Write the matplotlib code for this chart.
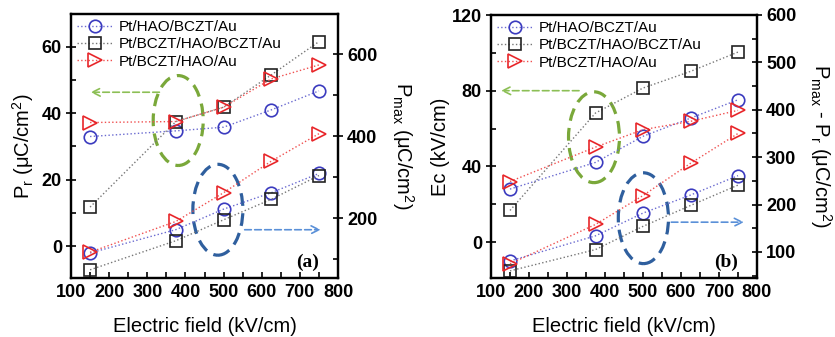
import matplotlib
matplotlib.use("Agg")
import matplotlib.pyplot as plt
from matplotlib.patches import Ellipse
from matplotlib.ticker import MultipleLocator

plt.rcParams['font.family'] = ['Liberation Sans', 'DejaVu Sans']
plt.rcParams['mathtext.fontset'] = 'custom'
plt.rcParams['mathtext.rm'] = 'Liberation Sans'
plt.rcParams['mathtext.it'] = 'Liberation Sans'

# ---------------- data ----------------
field = [150, 375, 500, 625, 750]
labels = ["Pt/HAO/BCZT/Au", "Pt/BCZT/HAO/BCZT/Au", "Pt/BCZT/HAO/Au"]

# panel (a)
pr_hao_bczt = [33.0, 34.7, 35.8, 41.0, 46.7]
pr_bczt_hao_bczt = [11.8, 37.5, 41.8, 51.5, 61.5]
pr_bczt_hao = [37.2, 37.5, 41.8, 50.3, 54.5]
pmax_hao_bczt = [115, 172, 222, 262, 309]
pmax_bczt_hao_bczt = [74, 145, 196, 246, 304]
pmax_bczt_hao = [117, 192, 262, 339, 406]

# panel (b)
ec_hao_bczt = [28.0, 42.1, 55.9, 65.5, 75.2]
ec_bczt_hao_bczt = [16.7, 68.2, 81.4, 90.2, 100.4]
ec_bczt_hao = [32.0, 50.2, 59.4, 63.8, 69.6]
dp_hao_bczt = [81, 134, 182, 220, 261]
dp_bczt_hao_bczt = [60, 105, 154, 198, 241]
dp_bczt_hao = [75, 158, 219, 287, 350]

colors = ["#3b3bbf", "#222222", "#e8262a"]
line_colors = ["#6a6ad0", "#777777", "#f05050"]
markers = ["o", "s", ">"]
msizes = [9, 8, 10]

W, H = 835, 337
fig = plt.figure(figsize=(W / 100, H / 100), dpi=100)

def px_axes(l, r, t, b):
    return fig.add_axes([l / W, 1 - b / H, (r - l) / W, (b - t) / H])

def series(ax, y, i, label=None):
    return ax.plot(field, y, linestyle=':', color=line_colors[i], lw=1.0,
                   marker=markers[i], ms=msizes[i], mfc='none',
                   mec=colors[i], mew=1.2, label=label)[0]

def style(ax, ax2, ylim, y2lim, ymaj, ymin, y2maj, y2min):
    ax.set_xlim(100, 800)
    ax.set_ylim(*ylim)
    ax2.set_ylim(*y2lim)
    ax.xaxis.set_major_locator(MultipleLocator(100))
    ax.xaxis.set_minor_locator(MultipleLocator(50))
    ax.yaxis.set_major_locator(MultipleLocator(ymaj))
    ax.yaxis.set_minor_locator(MultipleLocator(ymin))
    ax2.yaxis.set_major_locator(MultipleLocator(y2maj))
    ax2.yaxis.set_minor_locator(MultipleLocator(y2min))
    for a in (ax, ax2):
        for s in a.spines.values():
            s.set_linewidth(1.6)
    ax.tick_params(axis='x', which='both', direction='in', length=4, width=1.2,
                   labelsize=13, pad=4, top=False)
    ax.tick_params(axis='y', which='major', direction='inout', length=7, width=1.2,
                   labelsize=13, pad=3)
    ax.tick_params(axis='y', which='minor', direction='in', length=3.5, width=1.2)
    ax2.tick_params(axis='y', which='major', direction='inout', length=7, width=1.2,
                    labelsize=13, pad=3)
    ax2.tick_params(axis='y', which='minor', direction='in', length=3.5, width=1.2)
    for lab in ax.get_xticklabels() + ax.get_yticklabels() + ax2.get_yticklabels():
        lab.set_fontweight('bold')
    ax.set_xlabel("Electric field (kV/cm)", fontsize=14.5, labelpad=12)

def decorate(ax, green, blue, garrow, barrow):
    gx, gy, gw, gh = green
    ax.add_patch(Ellipse((gx, gy), gw, gh, fill=False, ec="#7aa83a", lw=2.3,
                         ls=(0, (4, 2.3)), zorder=1))
    bx, by, bw, bh = blue
    ax.add_patch(Ellipse((bx, by), bw, bh, fill=False, ec="#2f5f9e", lw=2.3,
                         ls=(0, (4, 2.3)), zorder=1))
    ax.annotate("", xy=(garrow[1], garrow[2]), xytext=(garrow[0], garrow[2]),
                arrowprops=dict(arrowstyle="->", color="#8cbf55", lw=1.2,
                                ls=(0, (4, 2)), mutation_scale=14))
    ax.annotate("", xy=(barrow[1], barrow[2]), xytext=(barrow[0], barrow[2]),
                arrowprops=dict(arrowstyle="->", color="#5a90d8", lw=1.2,
                                ls=(0, (4, 2)), mutation_scale=14))

# ---------------- panel (a) ----------------
ax = px_axes(71, 338, 14, 278)
ax2 = ax.twinx()
h = [series(ax, pr_hao_bczt, 0, labels[0]),
     series(ax, pr_bczt_hao_bczt, 1, labels[1]),
     series(ax, pr_bczt_hao, 2, labels[2])]
series(ax2, pmax_hao_bczt, 0)
series(ax2, pmax_bczt_hao_bczt, 1)
series(ax2, pmax_bczt_hao, 2)
style(ax, ax2, (-9.5, 69.8), (54, 698), 20, 10, 200, 100)
ax.set_ylabel(r"P$_\mathregular{r}$ (μC/cm$^\mathregular{2}$)", fontsize=14.5, labelpad=4)
ax2.set_ylabel(r"P$_\mathregular{max}$ (μC/cm$^\mathregular{2}$)", fontsize=14.5,
               rotation=270, labelpad=28)
decorate(ax, (381, 37.8, 131, 27), (485, 11, 131, 27.3),
         (339, 144, 46.3), (548, 762, 5))
ax.text(0.93, 0.025, "(a)", transform=ax.transAxes, ha='right', va='bottom',
        fontsize=14, fontweight='bold', family='Liberation Serif')
ax.legend(handles=h, loc='upper left', frameon=False, fontsize=11,
          handlelength=2.3, handletextpad=0.4, labelspacing=0.22,
          borderaxespad=0.2, borderpad=0.2)

# ---------------- panel (b) ----------------
bx = px_axes(491, 757, 15, 278)
bx2 = bx.twinx()
h = [series(bx, ec_hao_bczt, 0, labels[0]),
     series(bx, ec_bczt_hao_bczt, 1, labels[1]),
     series(bx, ec_bczt_hao, 2, labels[2])]
series(bx2, dp_hao_bczt, 0)
series(bx2, dp_bczt_hao_bczt, 1)
series(bx2, dp_bczt_hao, 2)
style(bx, bx2, (-19, 120), (45, 600), 40, 20, 100, 50)
bx.set_ylabel("Ec (kV/cm)", fontsize=14.5, labelpad=1)
bx2.set_ylabel(r"P$_\mathregular{max}$ - P$_\mathregular{r}$ (μC/cm$^\mathregular{2}$)",
               fontsize=14.5, rotation=270, labelpad=27)
decorate(bx, (371, 55.4, 134, 48), (501, 12.6, 132, 48),
         (339, 119, 80), (567, 773, 10.5))
bx.text(0.93, 0.025, "(b)", transform=bx.transAxes, ha='right', va='bottom',
        fontsize=14, fontweight='bold', family='Liberation Serif')
bx.legend(handles=h, loc='upper left', frameon=False, fontsize=11,
          handlelength=2.3, handletextpad=0.4, labelspacing=0.22,
          borderaxespad=0.2, borderpad=0.2)

fig.savefig("out.png", dpi=100)
